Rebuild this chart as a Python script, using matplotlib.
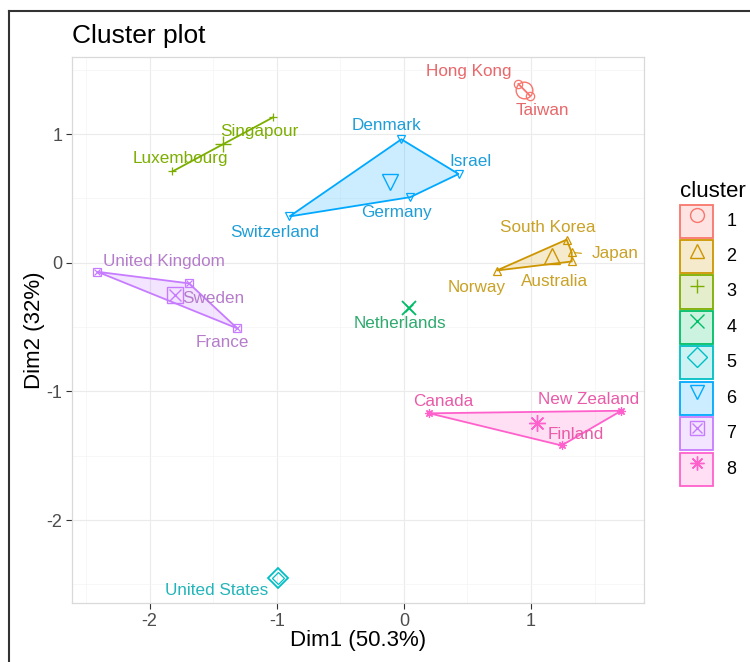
import matplotlib
matplotlib.use("Agg")
import matplotlib.pyplot as plt
from matplotlib.patches import Polygon, Patch
from matplotlib.lines import Line2D
from matplotlib.legend_handler import HandlerTuple
import numpy as np

plt.rcParams["font.family"] = ["Liberation Sans", "DejaVu Sans"]
plt.rcParams["axes.unicode_minus"] = False

# data
countries = ["Hong Kong", "Taiwan", "Singapour", "Luxembourg", "Denmark", "Israel",
             "Germany", "Switzerland", "South Korea", "Japan", "Norway", "Australia",
             "Netherlands", "United Kingdom", "Sweden", "France", "Canada",
             "New Zealand", "Finland", "United States"]
dim1 = [0.90, 0.99, -1.03, -1.82, -0.02, 0.43, 0.05, -0.90, 1.28, 1.32, 0.73, 1.32,
        0.04, -2.41, -1.69, -1.31, 0.20, 1.71, 1.24, -0.99]
dim2 = [1.39, 1.30, 1.13, 0.71, 0.96, 0.69, 0.51, 0.36, 0.18, 0.08, -0.06, 0.01,
        -0.35, -0.07, -0.16, -0.51, -1.17, -1.15, -1.42, -2.45]
cluster = [1, 1, 3, 3, 6, 6, 6, 6, 2, 2, 2, 2, 4, 7, 7, 7, 8, 8, 8, 5]

# label offsets in pixels (dx right, dy down), like ggrepel placed them
label_offsets = {
    "Hong Kong": (-50, -12), "Taiwan": (13, 15), "Singapour": (-14, 14),
    "Luxembourg": (8, -13), "Denmark": (-15, -14), "Israel": (12, -13),
    "Germany": (-14, 15), "Switzerland": (-15, 16), "South Korea": (-19, -12),
    "Japan": (43, 1), "Norway": (-20, 17), "Australia": (-17, 20),
    "Netherlands": (-9, 16), "United Kingdom": (67, -10), "Sweden": (24, 15),
    "France": (-15, 14), "Canada": (14, -12), "New Zealand": (-33, -11),
    "Finland": (14, -11), "United States": (-61, 13),
}

colors = {1: "#F8766D", 2: "#CD9600", 3: "#7CAE00", 4: "#00BE67",
          5: "#00BFC4", 6: "#00A9FF", 7: "#C77CFF", 8: "#FF61CC"}
text_colors = {1: "#E8676A", 2: "#C9A227", 3: "#7CAE00", 4: "#2EAA6E",
               5: "#22B5B9", 6: "#1E9ED8", 7: "#B57CCB", 8: "#E95AA8"}
markers = {1: "o", 2: "^", 3: "+", 4: "x", 5: "D", 6: "v", 7: "s", 8: (8, 2, 0)}


def hull(pts):
    pts = sorted(set(pts))
    if len(pts) < 3:
        return pts
    def cross(o, a, b):
        return (a[0] - o[0]) * (b[1] - o[1]) - (a[1] - o[1]) * (b[0] - o[0])
    lower, upper = [], []
    for p in pts:
        while len(lower) >= 2 and cross(lower[-2], lower[-1], p) <= 0:
            lower.pop()
        lower.append(p)
    for p in reversed(pts):
        while len(upper) >= 2 and cross(upper[-2], upper[-1], p) <= 0:
            upper.pop()
        upper.append(p)
    return lower[:-1] + upper[:-1]


def marker_lines(k, size, lw):
    m = markers[k]
    c = colors[k]
    if k == 7:
        return [dict(marker="s", mfc="none", mec=c, ms=size, mew=lw),
                dict(marker="x", color=c, ms=size * 0.7, mew=lw)]
    if m in ("+", "x") or isinstance(m, tuple):
        return [dict(marker=m, color=c, ms=size, mew=lw)]
    return [dict(marker=m, mfc="none", mec=c, ms=size, mew=lw)]


def draw_marker(ax, x, y, k, size, lw):
    for kw in marker_lines(k, size, lw):
        ax.plot(x, y, ls="none", zorder=4, **kw)


fig = plt.figure(figsize=(7.5, 6.62), dpi=100)
ax = fig.add_axes([0.096, 0.089, 0.763, 0.825])
ax.set_xlim(-2.61, 1.89)
ax.set_ylim(-2.645, 1.60)

x = np.array(dim1)
y = np.array(dim2)
cl = np.array(cluster)

for k in range(1, 9):
    sel = cl == k
    pts = list(zip(x[sel], y[sel]))
    if len(pts) >= 3:
        h = hull(pts)
        ax.add_patch(Polygon(h, closed=True, facecolor=colors[k], alpha=0.2,
                             edgecolor="none", zorder=2))
        ax.add_patch(Polygon(h, closed=True, facecolor="none",
                             edgecolor=colors[k], lw=1.3, zorder=3))
    elif len(pts) == 2:
        ax.plot([p[0] for p in pts], [p[1] for p in pts], color=colors[k], lw=1.3, zorder=3)
    for px, py in pts:
        draw_marker(ax, px, py, k, 6, 0.9)
    if len(pts) > 1:
        draw_marker(ax, x[sel].mean(), y[sel].mean(), k, 12, 1.0)
    else:
        draw_marker(ax, x[sel].mean(), y[sel].mean(), k, 10, 1.3)

for name, px, py, k in zip(countries, dim1, dim2, cluster):
    dx, dy = label_offsets[name]
    ax.annotate(name, (px, py), xytext=(dx * 0.72, -dy * 0.72), textcoords="offset points",
                ha="center", va="center", fontsize=12.3, color=text_colors[k], zorder=5)
    if name == "Japan":
        ax.annotate("", (px, py), xytext=(dx * 0.72 - 22, -dy * 0.72),
                    textcoords="offset points",
                    arrowprops=dict(arrowstyle="-", color=colors[k], lw=0.8))

ax.set_xticks([-2, -1, 0, 1])
ax.set_yticks([-2, -1, 0, 1])
ax.set_xticks([-2.5, -1.5, -0.5, 0.5, 1.5], minor=True)
ax.set_yticks([-2.5, -1.5, -0.5, 0.5, 1.5], minor=True)
ax.grid(which="major", color="#EBEBEB", lw=0.8, zorder=0)
ax.grid(which="minor", color="#F4F4F4", lw=0.5, zorder=0)
ax.set_axisbelow(True)
for s in ax.spines.values():
    s.set_color("#D9D9D9")
    s.set_linewidth(0.9)
ax.tick_params(which="major", length=4, color="#333333", labelsize=13,
               labelcolor="#4D4D4D", pad=3)
ax.tick_params(which="minor", length=0)
ax.set_xlabel("Dim1 (50.3%)", fontsize=16, labelpad=0)
ax.set_ylabel("Dim2 (32%)", fontsize=16, labelpad=1)
ax.set_title("Cluster plot", fontsize=19, loc="left", pad=10)

handles = []
for k in range(1, 9):
    box = Patch(facecolor=colors[k] + "33", edgecolor=colors[k], lw=1.3)
    lines = [Line2D([], [], ls="none", **kw) for kw in marker_lines(k, 10, 1.0)]
    handles.append(tuple([box] + lines))

leg = fig.legend(handles, [str(k) for k in range(1, 9)],
                 handler_map={tuple: HandlerTuple(ndivide=1, pad=0)},
                 loc="upper left", bbox_to_anchor=(0.897, 0.738),
                 title="cluster", title_fontsize=16, fontsize=11, frameon=False,
                 handlelength=2.15, handleheight=2.95, labelspacing=0.16,
                 handletextpad=0.85, borderpad=0)
leg._legend_box.align = "left"
for t in leg.get_texts():
    t.set_fontsize(13)

# outer frame lines (left and top)
fig.add_artist(Line2D([9 / 750, 9 / 750], [0, 1 - 11 / 662], color="#333333", lw=1.5,
                      transform=fig.transFigure))
fig.add_artist(Line2D([9 / 750, 1], [1 - 11 / 662, 1 - 11 / 662], color="#333333", lw=1.5,
                      transform=fig.transFigure))

fig.savefig("out.png", dpi=100, facecolor="white")
